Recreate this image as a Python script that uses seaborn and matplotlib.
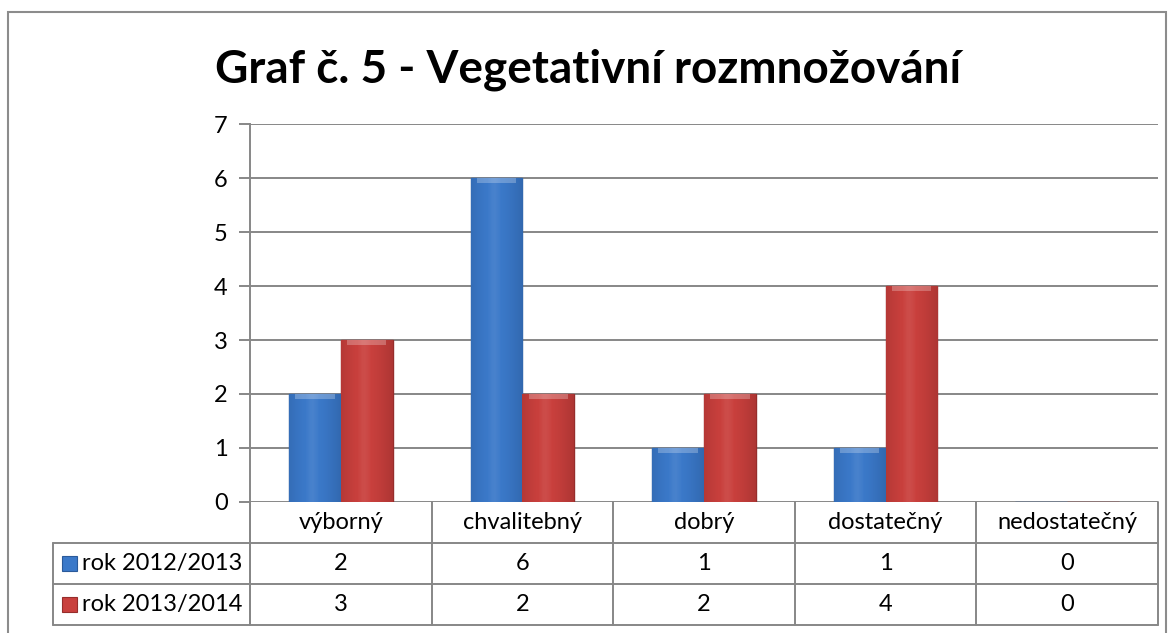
import numpy as np
import pandas as pd
import matplotlib
matplotlib.use("Agg")
import matplotlib.pyplot as plt
import matplotlib.transforms as mtransforms
from matplotlib.patches import Rectangle
import seaborn as sns

# data
categories = ["výborný", "chvalitebný", "dobrý", "dostatečný", "nedostatečný"]
series_names = ["rok 2012/2013", "rok 2013/2014"]
values_2012 = [2, 6, 1, 1, 0]
values_2013 = [3, 2, 2, 4, 0]
title = "Graf č. 5 - Vegetativní rozmnožování"

colors = ["#3b79c9", "#c9403d"]
edge_colors = ["#2a5a9a", "#962d2b"]
grid_color = "#878787"

df = pd.DataFrame({
    "kategorie": categories * 2,
    "rok": [series_names[0]] * len(categories) + [series_names[1]] * len(categories),
    "hodnota": values_2012 + values_2013,
})

sns.set_theme(style="white")
plt.rcParams["font.family"] = ["Lato", "DejaVu Sans"]
plt.rcParams["text.color"] = "black"
fs = 17

W, H = 1176, 633
fig = plt.figure(figsize=(W / 100, H / 100), dpi=100)
left, right, top, bottom = 250, 1158, 124, 502
ax = fig.add_axes([left / W, 1 - bottom / H, (right - left) / W, (bottom - top) / H])

sns.barplot(data=df, x="kategorie", y="hodnota", hue="rok", order=categories,
            hue_order=series_names, palette=colors, width=0.57, legend=False,
            ax=ax, saturation=1)

# simple bevel look: shaded body, darker edges
for i, cont in enumerate(ax.containers):
    for p in cont:
        p.set_edgecolor(edge_colors[i])
        p.set_linewidth(1.0)
        p.set_zorder(3)
        x0, w = p.get_x(), p.get_width()
        h = p.get_height()
        if h <= 0:
            continue
        grad = np.linspace(0, 1, 64)
        shade = 1 - 0.55 * np.abs(grad - 0.45) ** 1.5
        img = np.tile(shade, (2, 1))
        im = ax.imshow(img, extent=(x0, x0 + w, 0, h), aspect="auto",
                       cmap=matplotlib.colors.LinearSegmentedColormap.from_list(
                           "c", [edge_colors[i], colors[i], "#ffffff"]),
                       vmin=0.6, vmax=1.35, zorder=3.5)
        im.set_clip_path(p)
        ax.add_patch(Rectangle((x0 + w * 0.12, h - 0.09), w * 0.76, 0.09,
                               facecolor="white", alpha=0.25, lw=0, zorder=4))

ax.set_xlim(-0.5, len(categories) - 0.5)
ax.set_ylim(0, 7)
ax.set_yticks(range(0, 8))
ax.set_xlabel("")
ax.set_ylabel("")
ax.set_xticks([])
ax.yaxis.grid(True, color=grid_color, linewidth=1.4)
ax.set_axisbelow(True)
for side in ["top", "right", "bottom"]:
    ax.spines[side].set_visible(False)
ax.spines["left"].set_color(grid_color)
ax.spines["left"].set_linewidth(1.4)
ax.tick_params(axis="y", left=True, length=8, width=1.4, color=grid_color,
               labelsize=fs, pad=8, labelcolor="black")

# data table below the axes
trans = mtransforms.blended_transform_factory(ax.transData, ax.transAxes)
row_h = 41 / (bottom - top)
n = len(categories)
label_left = (53 - left) / (right - left)
line_kw = dict(color=grid_color, linewidth=1.4, clip_on=False)

for k in range(1, 4):
    y = -row_h * k
    ax.plot([label_left, 1], [y, y], transform=ax.transAxes, **line_kw)
ax.plot([label_left, label_left], [-row_h, -3 * row_h], transform=ax.transAxes, **line_kw)
ax.plot([0, 0], [0, -3 * row_h], transform=ax.transAxes, **line_kw)
for i in range(n + 1):
    xb = i - 0.5
    ax.plot([xb, xb], [0, -3 * row_h], transform=trans, **line_kw)

for i, cat in enumerate(categories):
    ax.text(i, -row_h * 0.5, cat, transform=trans, ha="center", va="center", fontsize=fs)
    ax.text(i, -row_h * 1.5, str(values_2012[i]), transform=trans, ha="center", va="center", fontsize=fs)
    ax.text(i, -row_h * 2.5, str(values_2013[i]), transform=trans, ha="center", va="center", fontsize=fs)

px = 1 / (right - left)
for j, name in enumerate(series_names):
    yc = -row_h * (1.5 + j)
    ax.add_patch(Rectangle((label_left + 9 * px, yc - 7.5 / (bottom - top)), 15 * px, 15 / (bottom - top),
                           transform=ax.transAxes, facecolor=colors[j], edgecolor=edge_colors[j],
                           lw=0.8, clip_on=False))
    ax.text(label_left + 29 * px, yc, name, transform=ax.transAxes, ha="left", va="center", fontsize=fs)

# outer chart border
fig.add_artist(Rectangle((8 / W, -0.05), (1166 - 8) / W, 1.05 - 12 / H, transform=fig.transFigure,
                         fill=False, edgecolor="#8c8c8c", linewidth=1.5))

fig.text(0.5, 1 - 70 / H, title, ha="center", va="center", fontsize=33, fontweight="bold",
         color="black")

fig.savefig("out.png", dpi=100)
